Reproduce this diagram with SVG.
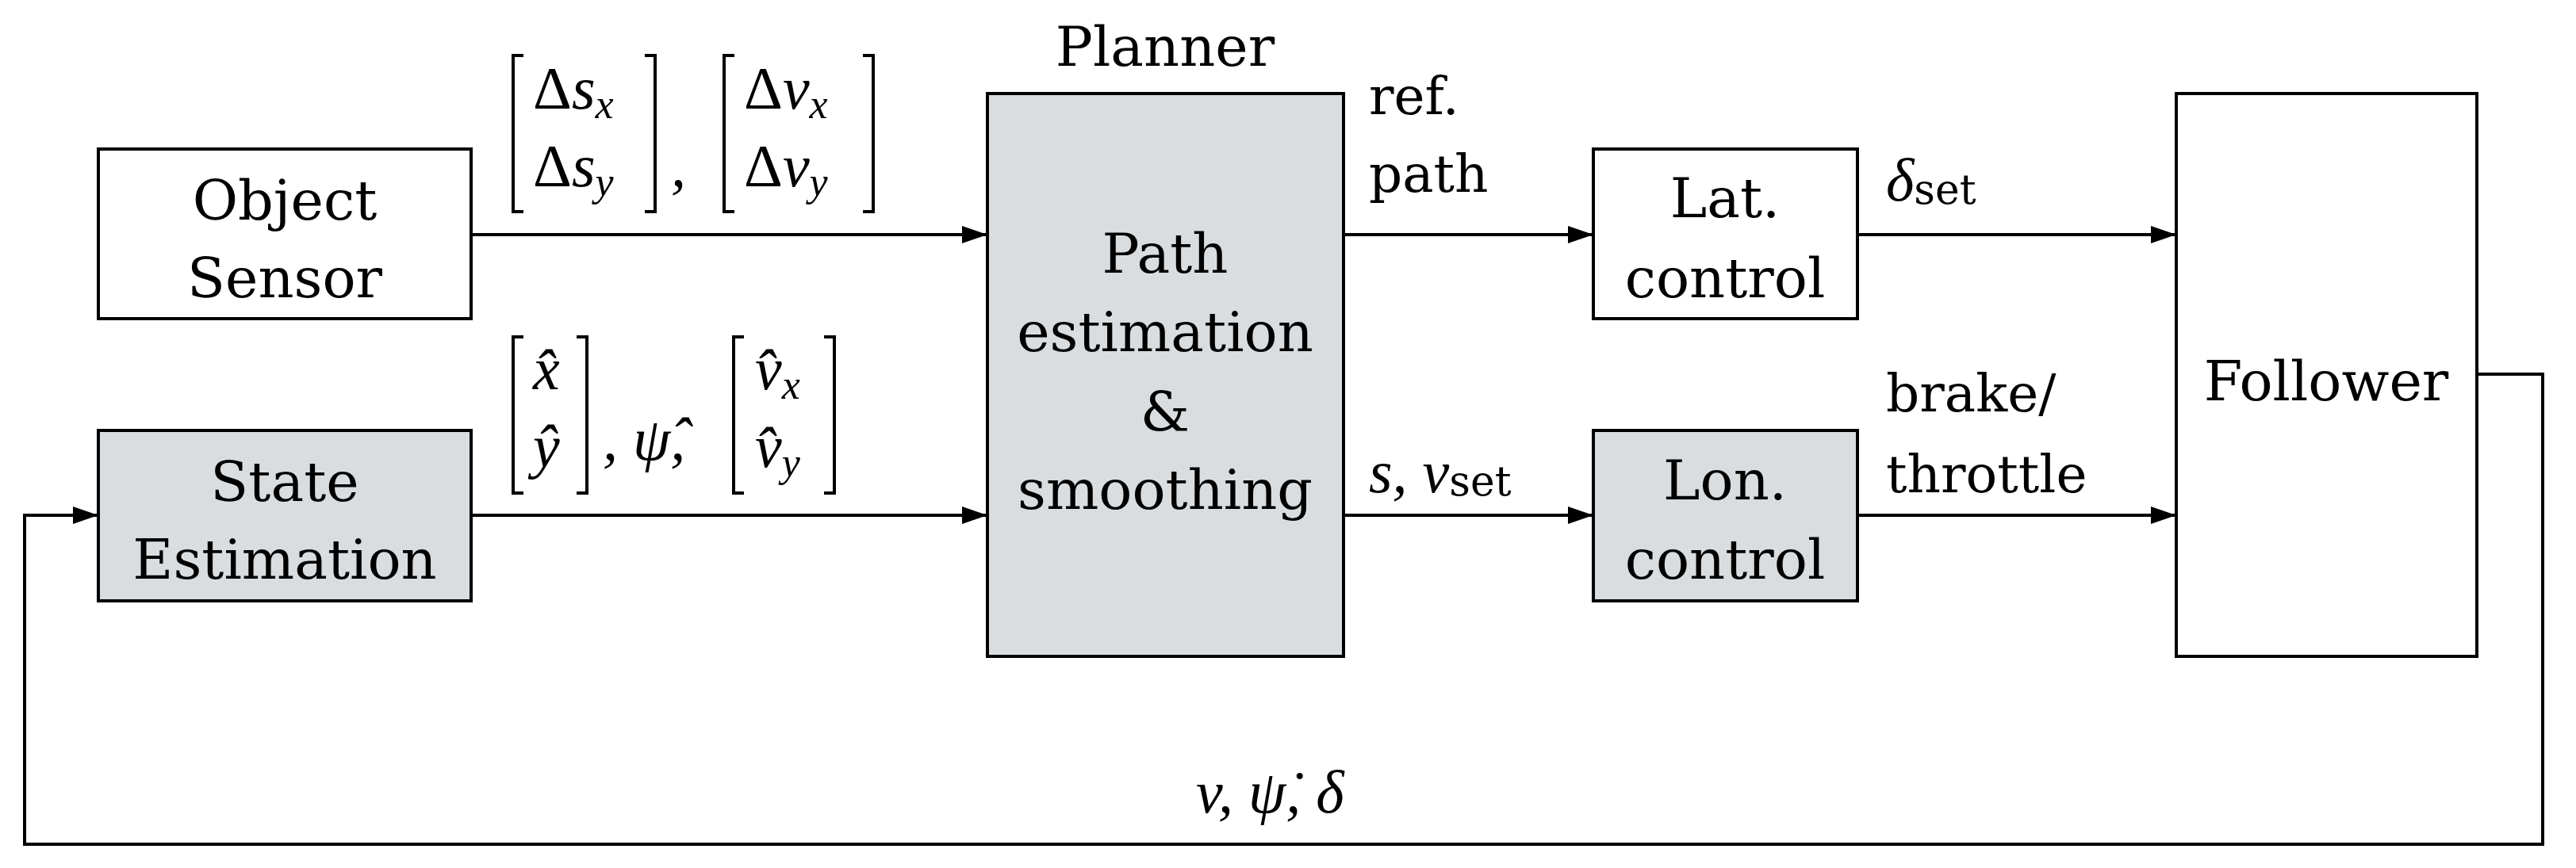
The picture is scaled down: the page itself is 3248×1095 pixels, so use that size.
<svg xmlns="http://www.w3.org/2000/svg" width="3248" height="1095" viewBox="0 0 3248 1095">
<style>
.b{fill:#fff;stroke:#000;stroke-width:4}
.g{fill:#d9dde0;stroke:#000;stroke-width:4}
.t{font-family:"DejaVu Serif","Liberation Serif",serif;font-size:70px;text-anchor:middle;fill:#000}
.l{font-family:"DejaVu Serif","Liberation Serif",serif;font-size:66px;fill:#000}
.m{font-family:"Liberation Serif",serif;font-style:italic;font-size:76px;fill:#000}
.s{font-size:52px}
.r{font-style:normal}
.c{fill:none;stroke:#000;stroke-width:4}
</style>
<defs><marker id="a" markerWidth="32" markerHeight="22" refX="32" refY="11" orient="auto" markerUnits="userSpaceOnUse"><path d="M0,0 L32,11 L0,22 Z" fill="#000"/></marker></defs>
<g id="objsensor"><rect class="b" x="124" y="188" width="470" height="214"/><text class="t" x="359" y="277">Object</text><text class="t" x="359" y="375">Sensor</text></g>
<g id="stateest"><rect class="g" x="124" y="543" width="470" height="215"/><text class="t" x="359" y="632">State</text><text class="t" x="359" y="730">Estimation</text></g>
<g id="planner"><text class="t" x="1469" y="83">Planner</text><rect class="g" x="1245" y="118" width="449" height="710"/><text class="t" x="1469" y="344">Path</text><text class="t" x="1469" y="443">estimation</text><text class="t" x="1469" y="544">&amp;</text><text class="t" x="1469" y="642">smoothing</text></g>
<g id="lat"><rect class="b" x="2009" y="188" width="333" height="214"/><text class="t" x="2175" y="274">Lat.</text><text class="t" x="2175" y="375">control</text></g>
<g id="lon"><rect class="g" x="2009" y="543" width="333" height="215"/><text class="t" x="2175" y="630">Lon.</text><text class="t" x="2175" y="730">control</text></g>
<g id="follower"><rect class="b" x="2744" y="118" width="379" height="710"/><text class="t" x="2933" y="505">Follower</text></g>
<g id="connectors">
<path class="c" d="M594,296 H1245" marker-end="url(#a)"/>
<path class="c" d="M594,650 H1245" marker-end="url(#a)"/>
<path class="c" d="M1694,296 H2009" marker-end="url(#a)"/>
<path class="c" d="M1694,650 H2009" marker-end="url(#a)"/>
<path class="c" d="M2342,296 H2744" marker-end="url(#a)"/>
<path class="c" d="M2342,650 H2744" marker-end="url(#a)"/>
<path class="c" d="M3123,472 H3206 V1065 H31 V650 H124" marker-end="url(#a)"/>
</g>
<g id="labels">
<path class="c" d="M660,70 H647 V267 H660 M813,70 H826 V267 H813 M926,70 H913 V267 H926 M1088,70 H1101 V267 H1088"/>
<text class="m" x="672" y="137"><tspan class="r">Δ</tspan>s<tspan class="s" dy="12">x</tspan></text>
<text class="m" x="672" y="235"><tspan class="r">Δ</tspan>s<tspan class="s" dy="12">y</tspan></text>
<text class="m" x="846" y="235">,</text>
<text class="m" x="938" y="137"><tspan class="r">Δ</tspan>v<tspan class="s" dy="12">x</tspan></text>
<text class="m" x="938" y="235"><tspan class="r">Δ</tspan>v<tspan class="s" dy="12">y</tspan></text>
<path class="c" d="M660,425 H647 V622 H660 M727,425 H740 V622 H727 M938,425 H925 V622 H938 M1039,425 H1052 V622 H1039"/>
<text class="m" x="672" y="491">x̂</text>
<text class="m" x="672" y="589">ŷ</text>
<text class="m" x="760" y="580">, ψ̂,</text>
<text class="m" x="952" y="491">v̂<tspan class="s" dy="12">x</tspan></text>
<text class="m" x="952" y="589">v̂<tspan class="s" dy="12">y</tspan></text>
<text class="l" x="1726" y="144">ref.</text>
<text class="l" x="1726" y="242">path</text>
<text class="m" x="1726" y="621">s, v<tspan class="s r" font-family="DejaVu Serif" dy="4">set</tspan></text>
<text class="m" x="2378" y="253">δ<tspan class="s r" font-family="DejaVu Serif" dy="4">set</tspan></text>
<text class="l" x="2378" y="519">brake/</text>
<text class="l" x="2378" y="621">throttle</text>
<text class="m" x="1508" y="1025">v, ψ̇, δ</text>
</g>
</svg>
